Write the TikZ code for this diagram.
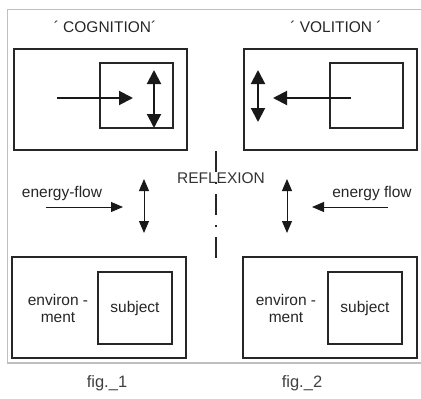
\documentclass[tikz,border=0pt]{standalone}
\usepackage{fontspec}
\setmainfont{Liberation Sans}
\usetikzlibrary{positioning,arrows,arrows.meta}

\begin{document}
\begin{tikzpicture}[x=1pt,y=-1pt]
          \useasboundingbox (0,0) rectangle (421,399);

          \tikzstyle{every node}=[text=black!85,font=\fontsize{15.5}{17}\selectfont]
          \tikzstyle{boite}=[draw=black!85,line width=2pt,minimum width=173pt,minimum height=101pt,inner sep=0pt]
          \tikzstyle{sujet}=[boite,minimum width=73pt,minimum height=65pt]
          \tikzstyle{gros}=[draw=black!90,line width=2pt,>={Triangle[length=14pt,width=14pt]}]
          \tikzstyle{fin}=[draw=black!90,line width=1pt,>={Triangle[length=12pt,width=10pt]}]
          \tikzstyle{axe}=[draw=black!85,line width=1.3pt,dash pattern=on 21pt off 10pt on 2pt off 10pt]

          % cadre gris
          \draw[black!25,line width=1.5pt] (425,9.5) -- (7.5,9.5) -- (7.5,363) -- (425,363);

          % titres
          \node (T1) at (105,27) {´ COGNITION´};
          \node (T2) at (336,27) {´ VOLITION ´};

          % premier schema (cognition)
          \node[boite] (C1) at (100.5,99.5) {};
          \node[sujet] (C2) at (136.5,95.5) {};
          \coordinate (Ca) at (57,98);
          \coordinate (Cb) at (133,98);
          \coordinate (Cc) at (154,70);
          \coordinate (Cd) at (154,128);
          \draw[gros,->] (Ca) -- (Cb);
          \draw[gros,<->] (Cc) -- (Cd);

          % deuxieme schema (volition)
          \node[boite] (V1) at (330.5,99.5) {};
          \node[sujet] (V2) at (366.5,95.5) {};
          \coordinate (Va) at (351,98);
          \coordinate (Vb) at (273,98);
          \coordinate (Vc) at (258,70);
          \coordinate (Vd) at (258,122);
          \draw[gros,->] (Va) -- (Vb);
          \draw[gros,<->] (Vc) -- (Vd);

          % axe de reflexion
          \coordinate (R1) at (216,151);
          \coordinate (R2) at (216,261);
          \draw[axe] (R1) -- (R2);
          \node[text=black!80] (R) at (221,178) {REFLEXION};

          % flux d'energie
          \node (E1) at (62,193) {energy-flow};
          \node (E2) at (372,193) {energy flow};
          \foreach \nom/\xa/\xb/\xv in {L/46/123/144, D/388/312/287}{
            \coordinate (F\nom a) at (\xa,207);
            \coordinate (F\nom b) at (\xb,207);
            \coordinate (F\nom c) at (\xv,179);
            \coordinate (F\nom d) at (\xv,233);
            \draw[fin,->] (F\nom a) -- (F\nom b);
            \draw[fin,<->] (F\nom c) -- (F\nom d);
          }

          % environnement et sujet
          \tikzstyle{boite}+=[minimum width=174pt]
          \node[boite] (B1) at (99,307.5) {};
          \node[boite] (B2) at (329.5,307.5) {};
          \node[sujet,minimum width=74pt,minimum height=72pt] (S1) at (135,308) {subject};
          \node[sujet,minimum width=74pt,minimum height=72pt] (S2) at (365,308) {subject};
          \node[align=center] (N1) at (58,308) {environ -\\ment};
          \node[align=center] (N2) at (286,308) {environ -\\ment};

          % legendes
          \node[font=\fontsize{16.5}{18}\selectfont,text=black!75] (L1) at (107,383) {fig.\_1};
          \node[font=\fontsize{16.5}{18}\selectfont,text=black!75] (L2) at (302,383) {fig.\_2};
        \end{tikzpicture}
\end{document}
